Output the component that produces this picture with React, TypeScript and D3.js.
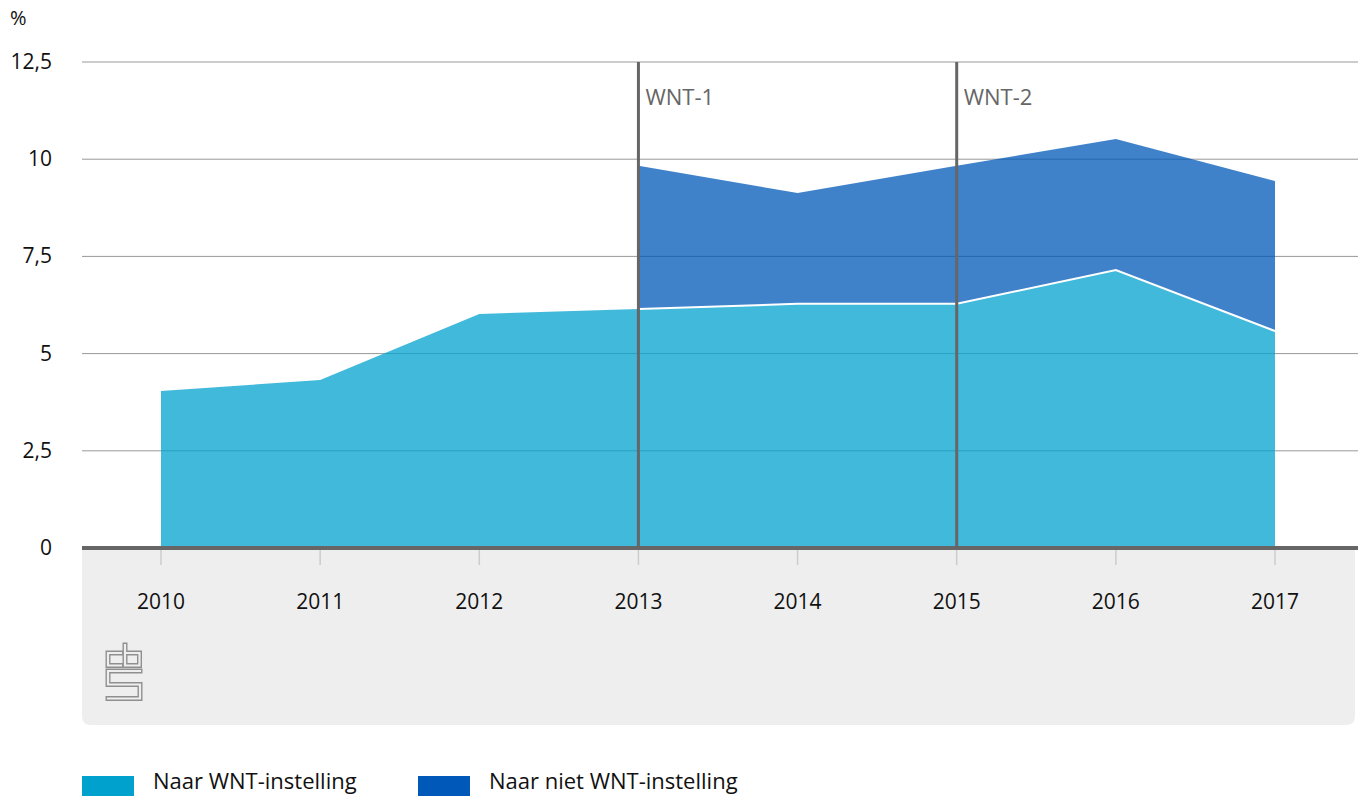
import React, { useEffect, useRef } from "react";
import * as d3 from "d3";

// years on the x axis
const years = [2010, 2011, 2012, 2013, 2014, 2015, 2016, 2017];
// share going to a WNT institution (%)
const naarWnt = [4.04, 4.32, 6.02, 6.15, 6.28, 6.28, 7.15, 5.58];
// share going to a non-WNT institution (%), only from 2013
const naarNietWnt = [null, null, null, 3.68, 2.85, 3.55, 3.37, 3.86];
const yTicks = [0, 2.5, 5, 7.5, 10, 12.5];
const markers = [
    { year: 2013, label: "WNT-1" },
    { year: 2015, label: "WNT-2" },
];
const legendItems = [
    { label: "Naar WNT-instelling", color: "#00a1cd" },
    { label: "Naar niet WNT-instelling", color: "#0058b8" },
];

const font = "'Open Sans', sans-serif";

const App = () => {
    const svgRef = useRef<SVGSVGElement>(null);

    useEffect(() => {
        const width = 1358;
        const height = 796;
        const left = 82;
        const right = 1358;

        const svg = d3.select(svgRef.current);
        svg.selectAll("*").remove();
        svg.attr("width", width).attr("height", height);

        const x = d3
            .scaleLinear()
            .domain([2010, 2017])
            .range([161, 1275]);
        const y = d3
            .scaleLinear()
            .domain([0, 12.5])
            .range([548, 62]);

        // grey footer band with rounded bottom corners
        const bandTop = y(0);
        const bandBottom = 725;
        const r = 9;
        svg.append("path")
            .attr(
                "d",
                `M${left},${bandTop} H${right - 3} V${bandBottom - r} Q${right - 3},${bandBottom} ${right - 3 - r},${bandBottom} H${left + r} Q${left},${bandBottom} ${left},${bandBottom - r} Z`
            )
            .attr("fill", "#eeeeee");

        // gridlines
        svg.append("g")
            .selectAll("line")
            .data(yTicks.filter((t) => t > 0))
            .join("line")
            .attr("x1", left)
            .attr("x2", right)
            .attr("y1", (d) => y(d))
            .attr("y2", (d) => y(d))
            .attr("stroke", "#999")
            .attr("stroke-width", 1);

        // y labels
        svg.append("g")
            .selectAll("text")
            .data(yTicks)
            .join("text")
            .attr("x", 52)
            .attr("y", (d) => y(d) + 7)
            .attr("text-anchor", "end")
            .attr("font-family", font)
            .attr("font-size", 21)
            .attr("fill", "#111")
            .text((d) => d3.format(".1~f")(d).replace(".", ","));

        svg.append("text")
            .attr("x", 10)
            .attr("y", 25)
            .attr("font-family", font)
            .attr("font-size", 20)
            .attr("fill", "#111")
            .text("%");

        const rows = years.map((yr, i) => ({
            year: yr,
            wnt: naarWnt[i],
            niet: naarNietWnt[i],
        }));

        // WNT area
        const areaWnt = d3
            .area<any>()
            .x((d) => x(d.year))
            .y0(y(0))
            .y1((d) => y(d.wnt));
        svg.append("path")
            .datum(rows)
            .attr("d", areaWnt)
            .attr("fill", legendItems[0].color)
            .attr("fill-opacity", 0.75);

        // non-WNT area stacked on top
        const nietRows = rows.filter((d) => d.niet !== null);
        const areaNiet = d3
            .area<any>()
            .x((d) => x(d.year))
            .y0((d) => y(d.wnt))
            .y1((d) => y(d.wnt + d.niet));
        svg.append("path")
            .datum(nietRows)
            .attr("d", areaNiet)
            .attr("fill", legendItems[1].color)
            .attr("fill-opacity", 0.75);

        // white separating line
        svg.append("path")
            .datum(nietRows)
            .attr(
                "d",
                d3
                    .line<any>()
                    .x((d) => x(d.year))
                    .y((d) => y(d.wnt))
            )
            .attr("fill", "none")
            .attr("stroke", "#fff")
            .attr("stroke-width", 2);

        // tick marks in the footer band
        svg.append("g")
            .selectAll("line")
            .data(years)
            .join("line")
            .attr("x1", (d) => x(d))
            .attr("x2", (d) => x(d))
            .attr("y1", y(0) + 2)
            .attr("y2", y(0) + 17)
            .attr("stroke", "#cccccc")
            .attr("stroke-width", 1.5);

        svg.append("g")
            .selectAll("text")
            .data(years)
            .join("text")
            .attr("x", (d) => x(d))
            .attr("y", 609)
            .attr("text-anchor", "middle")
            .attr("font-family", font)
            .attr("font-size", 21)
            .attr("fill", "#111")
            .text((d) => String(d));

        // zero axis line
        svg.append("line")
            .attr("x1", left)
            .attr("x2", right)
            .attr("y1", y(0))
            .attr("y2", y(0))
            .attr("stroke", "#666")
            .attr("stroke-width", 4);

        // WNT marker lines
        const m = svg.append("g");
        markers.forEach((mk) => {
            m.append("line")
                .attr("x1", x(mk.year))
                .attr("x2", x(mk.year))
                .attr("y1", y(12.5))
                .attr("y2", y(0))
                .attr("stroke", "#666")
                .attr("stroke-width", 3);
            m.append("text")
                .attr("x", x(mk.year) + 7)
                .attr("y", 105)
                .attr("font-family", font)
                .attr("font-size", 22)
                .attr("fill", "#666")
                .text(mk.label);
        });

        // cbs logo (outlined)
        const logo = svg.append("g").attr("fill", "none");
        const logoPaths = [
            "M121,653 H108 V665.5 H121",
            "M125,645 V665.5 H139.5 V653 H125",
            "M140,671 H108 V684.5 H140 V698.5 H108",
        ];
        logoPaths.forEach((p) => {
            logo.append("path")
                .attr("d", p)
                .attr("stroke", "#8f8f8f")
                .attr("stroke-width", 5)
                .attr("stroke-linecap", "square");
        });
        logoPaths.forEach((p) => {
            logo.append("path")
                .attr("d", p)
                .attr("stroke", "#eeeeee")
                .attr("stroke-width", 2.2)
                .attr("stroke-linecap", "square");
        });

        // legend
        const legendX = [82, 418];
        legendItems.forEach((it, i) => {
            svg.append("rect")
                .attr("x", legendX[i])
                .attr("y", 776)
                .attr("width", 52)
                .attr("height", 20)
                .attr("fill", it.color);
            svg.append("text")
                .attr("x", legendX[i] + 71)
                .attr("y", 789)
                .attr("font-family", font)
                .attr("font-size", 22)
                .attr("fill", "#111")
                .text(it.label);
        });
    }, []);

    return (
        <svg
            ref={svgRef}
            style={{ position: "absolute", left: 0, top: 0 }}
        ></svg>
    );
};

export default App;
